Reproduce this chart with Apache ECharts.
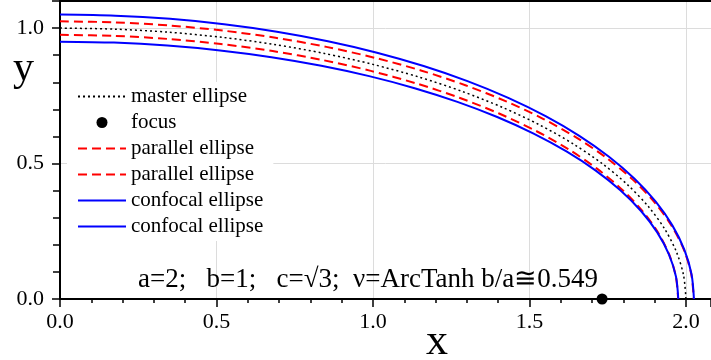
<!DOCTYPE html>
<html>
<head>
<meta charset="utf-8">
<script src="https://cdn.jsdelivr.net/npm/echarts@6/dist/echarts.min.js"></script>
<style>
  html, body { margin: 0; padding: 0; background: #fff; }
  #main { width: 711px; height: 360px; }
</style>
</head>
<body>
<div id="main"></div>
<script>
// points, [x, y]
var masterEllipse = [
  [0, 1], [0.1743, 0.9962], [0.3473, 0.9848], [0.5176, 0.9659], [0.6840, 0.9397],
  [0.8452, 0.9063], [1.0, 0.8660], [1.1472, 0.8192], [1.2856, 0.7660], [1.4142, 0.7071],
  [1.5321, 0.6428], [1.6383, 0.5736], [1.7321, 0.5], [1.8126, 0.4226], [1.8794, 0.3420],
  [1.9319, 0.2588], [1.9696, 0.1736], [1.9924, 0.0872], [2.0, 0]
];
var focusPoint = [[1.732, 0]];
var parallelOuter = [
  [0, 1.025], [0.1754, 1.0212], [0.3495, 1.0097], [0.5209, 0.9907], [0.6885, 0.9643],
  [0.8509, 0.9306], [1.0069, 0.8900], [1.1555, 0.8428], [1.2953, 0.7891], [1.4254, 0.7295],
  [1.5449, 0.6643], [1.6528, 0.5939], [1.7485, 0.5189], [1.8309, 0.4397], [1.8996, 0.3567],
  [1.9539, 0.2706], [1.9932, 0.1819], [2.0170, 0.0915], [2.025, 0]
];
var parallelInner = [
  [0, 0.975], [0.1732, 0.9712], [0.3451, 0.9599], [0.5143, 0.9411], [0.6795, 0.9151],
  [0.8395, 0.8820], [0.9931, 0.8420], [1.1389, 0.7956], [1.2759, 0.7430], [1.4030, 0.6847],
  [1.5193, 0.6213], [1.6238, 0.5533], [1.7157, 0.4811], [1.7943, 0.4055], [1.8592, 0.3273],
  [1.9099, 0.2470], [1.9460, 0.1653], [1.9678, 0.0829], [1.975, 0]
];
var confocalOuter = [
  [0, 1.05], [0.1765, 1.0460], [0.3517, 1.0341], [0.5242, 1.0142], [0.6928, 0.9867],
  [0.8560, 0.9516], [1.0128, 0.9093], [1.1618, 0.8601], [1.3020, 0.8043], [1.4323, 0.7425],
  [1.5516, 0.6749], [1.6592, 0.6023], [1.7541, 0.525], [1.8357, 0.4438], [1.9034, 0.3591],
  [1.9565, 0.2718], [1.9947, 0.1823], [2.0178, 0.0915], [2.0255, 0]
];
var confocalInner = [
  [0, 0.95], [0.1722, 0.9464], [0.3430, 0.9356], [0.5113, 0.9176], [0.6757, 0.8927],
  [0.8349, 0.8610], [0.9878, 0.8227], [1.1331, 0.7782], [1.2698, 0.7277], [1.3969, 0.6718],
  [1.5133, 0.6107], [1.6182, 0.5449], [1.7108, 0.475], [1.7904, 0.4015], [1.8564, 0.3249],
  [1.9082, 0.2459], [1.9455, 0.1650], [1.9680, 0.0828], [1.9755, 0]
];
var note = "a=2;   b=1;   c=\u221A3;  \u03BD=ArcTanh b/a\u22450.549";

var serif = "'Liberation Serif', 'DejaVu Serif', serif";
var chart = echarts.init(document.getElementById("main"));

function curve(name, data, color, width, dash) {
  return {
    name: name,
    type: "line",
    data: data,
    smooth: 0.3,
    showSymbol: false,
    symbol: "none",
    clip: false,
    z: 3,
    lineStyle: { color: color, width: width, type: dash },
    itemStyle: { color: color }
  };
}

// line entries in the legend: no marker dot
function lineItem(name) {
  return { name: name, itemStyle: { opacity: 0 } };
}

var option = {
  animation: false,
  backgroundColor: "#fff",
  grid: { left: 60, right: 0, top: 1, bottom: 61, outerBoundsMode: "none", containLabel: false },
  legend: {
    orient: "vertical",
    left: 67,
    top: 82,
    padding: [4, 10, 4, 10],
    backgroundColor: "#fff",
    itemWidth: 48,
    itemHeight: 11,
    itemGap: 5,
    textStyle: { fontFamily: serif, fontSize: 21, lineHeight: 21, color: "#000" },
    formatter: function(name) { return name.replace(/ \d$/, ""); },
    data: [lineItem("master ellipse"), "focus", lineItem("parallel ellipse 1"),
      lineItem("parallel ellipse 2"), lineItem("confocal ellipse 1"), lineItem("confocal ellipse 2")]
  },
  xAxis: [
    {
      type: "value",
      min: 0,
      max: 2.08,
      interval: 0.5,
      axisLine: { lineStyle: { color: "#000", width: 2 } },
      axisTick: { length: 8, lineStyle: { color: "#000", width: 1.5 } },
      minorTick: { show: true, splitNumber: 5, length: 4, lineStyle: { color: "#000", width: 1.5 } },
      splitLine: { show: true, lineStyle: { color: "#dcdcdc", width: 1 } },
      axisLabel: {
        margin: 12,
        fontFamily: serif,
        fontSize: 22,
        color: "#000",
        showMaxLabel: false,
        formatter: function(v) { return v.toFixed(1); }
      }
    },
    {
      type: "value",
      position: "top",
      min: 0,
      max: 2.08,
      axisLine: { show: true, onZero: false, lineStyle: { color: "#000", width: 2 } },
      axisTick: { show: false },
      axisLabel: { show: false },
      splitLine: { show: false }
    }
  ],
  yAxis: {
    type: "value",
    min: 0,
    max: 1.1,
    interval: 0.5,
    axisLine: { show: true, lineStyle: { color: "#000", width: 2 } },
    axisTick: { show: true, length: 8, lineStyle: { color: "#000", width: 1.5 } },
    minorTick: { show: true, splitNumber: 5, length: 7, lineStyle: { color: "#000", width: 1.5 } },
    splitLine: { show: true, lineStyle: { color: "#dcdcdc", width: 1 } },
    axisLabel: {
      margin: 16,
      fontFamily: serif,
      fontSize: 22,
      color: "#000",
      showMaxLabel: false,
      formatter: function(v) { return v.toFixed(1); }
    }
  },
  graphic: [
    {
      type: "text",
      left: 13,
      top: 48,
      style: { text: "y", font: "42px " + serif, fill: "#000" }
    },
    {
      type: "text",
      left: 426,
      top: 320,
      style: { text: "x", font: "44px " + serif, fill: "#000" }
    },
    {
      type: "text",
      left: 138,
      top: 266,
      z: 10,
      style: { text: note, font: "27px " + serif, fill: "#000" }
    }
  ],
  series: [
    curve("master ellipse", masterEllipse, "#000", 1.5, [2, 3]),
    {
      name: "focus",
      type: "scatter",
      data: focusPoint,
      symbol: "circle",
      symbolSize: 11,
      clip: false,
      z: 5,
      itemStyle: { color: "#000", opacity: 1 }
    },
    curve("parallel ellipse 1", parallelOuter, "#ff0000", 2, [9, 5]),
    curve("parallel ellipse 2", parallelInner, "#ff0000", 2, [9, 5]),
    curve("confocal ellipse 1", confocalOuter, "#0000ff", 2, "solid"),
    curve("confocal ellipse 2", confocalInner, "#0000ff", 2, "solid")
  ]
};

chart.setOption(option);
</script>
</body>
</html>
